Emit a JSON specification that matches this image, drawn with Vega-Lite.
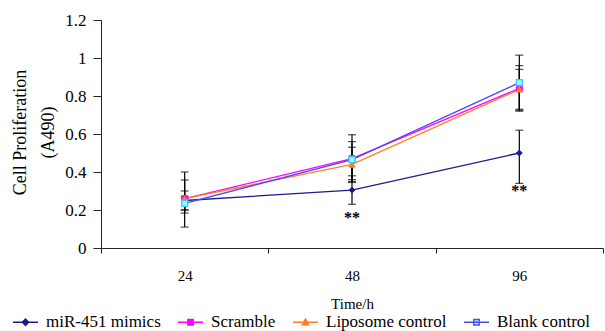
{
  "$schema": "https://vega.github.io/schema/vega-lite/v6.json",
  "autosize": {"type": "none"},
  "padding": {"left": 101, "top": 20, "right": 2, "bottom": 83},
  "width": 502,
  "height": 228,
  "background": "white",
  "config": {
    "view": {"stroke": null},
    "font": "Liberation Serif",
    "axis": {"grid": false, "domainColor": "#222222", "tickColor": "#222222", "labelColor": "black", "titleColor": "black", "labelFont": "Liberation Serif", "titleFont": "Liberation Serif", "titleFontWeight": "normal"},
    "axisY": {"labelOverlap": false, "labelSeparation": 0, "labelFontSize": 17, "labelFont": "Liberation Serif", "tickSize": 8, "labelPadding": 7}
  },
  "datasets": {
    "obs": [
      {"series": "miR-451 mimics", "time": "24", "value": 0.25, "lo": 0.20, "hi": 0.30},
      {"series": "miR-451 mimics", "time": "48", "value": 0.305, "lo": 0.23, "hi": 0.38},
      {"series": "miR-451 mimics", "time": "96", "value": 0.50, "lo": 0.34, "hi": 0.62},
      {"series": "Scramble", "time": "24", "value": 0.26, "lo": 0.11, "hi": 0.40},
      {"series": "Scramble", "time": "48", "value": 0.47, "lo": 0.345, "hi": 0.596},
      {"series": "Scramble", "time": "96", "value": 0.84, "lo": 0.72, "hi": 0.96},
      {"series": "Liposome control", "time": "24", "value": 0.26, "lo": 0.184, "hi": 0.358},
      {"series": "Liposome control", "time": "48", "value": 0.44, "lo": 0.35, "hi": 0.53},
      {"series": "Liposome control", "time": "96", "value": 0.835, "lo": 0.73, "hi": 0.94},
      {"series": "Blank control", "time": "24", "value": 0.235, "lo": 0.20, "hi": 0.27},
      {"series": "Blank control", "time": "48", "value": 0.465, "lo": 0.36, "hi": 0.56},
      {"series": "Blank control", "time": "96", "value": 0.87, "lo": 0.725, "hi": 1.015}
    ],
    "stars": [
      {"time": "48", "y": 0.16, "label": "**"},
      {"time": "96", "y": 0.30, "label": "**"}
    ]
  },
  "data": {"name": "obs"},
  "encoding": {
    "x": {
      "field": "time", "type": "ordinal", "sort": ["24", "48", "96"],
      "scale": {"type": "band", "paddingInner": 0, "paddingOuter": 0},
      "axis": {"title": "Time/h", "labelAngle": 0, "tickBand": "extent", "tickSize": 5, "labelPadding": 15, "labelFontSize": 15, "titleFontSize": 15, "titlePadding": 13}
    }
  },
  "layer": [
    {
      "mark": {"type": "rule", "color": "black", "strokeWidth": 1.2},
      "encoding": {
        "y": {
          "field": "lo", "type": "quantitative",
          "scale": {"domain": [0, 1.2], "nice": false, "zero": true},
          "axis": {"title": ["Cell Proliferation", "(A490)"], "tickCount": 6, "tickMinStep": 0.2, "labelExpr": "format(datum.value, '~g')", "labelOverlap": false, "titleFontSize": 18, "titleLineHeight": 28, "titleAngle": 270, "titleAlign": "center", "titleBaseline": "middle", "titleX": -81, "titleY": 112}
        },
        "y2": {"field": "hi"}
      }
    },
    {
      "mark": {"type": "tick", "color": "black", "size": 8, "thickness": 1.2, "orient": "horizontal"},
      "encoding": {"y": {"field": "lo", "type": "quantitative"}}
    },
    {
      "mark": {"type": "tick", "color": "black", "size": 8, "thickness": 1.2, "orient": "horizontal"},
      "encoding": {"y": {"field": "hi", "type": "quantitative"}}
    },
    {
      "mark": {"type": "line", "strokeWidth": 1.3},
      "encoding": {
        "y": {"field": "value", "type": "quantitative"},
        "color": {
          "field": "series", "type": "nominal",
          "scale": {"domain": ["miR-451 mimics", "Scramble", "Liposome control", "Blank control"], "range": ["#1a1a8c", "#ff00ff", "#ff7f27", "#4a4af0"]},
          "legend": {
            "title": null, "orient": "none", "legendX": -89, "legendY": 288.5,
            "direction": "horizontal", "columns": 4,
            "symbolSize": 625, "symbolStrokeWidth": 1.3,
            "labelFont": "Liberation Serif", "labelFontSize": 17, "labelColor": "black",
            "labelOffset": 7, "columnPadding": 14, "labelLimit": 300,
            "encode": {
              "symbols": {
                "update": {
                  "shape": {"signal": "datum.value === 'miR-451 mimics' ? 'M-1,0H1M0,-0.26L0.26,0L0,0.26L-0.26,0Z' : datum.value === 'Liposome control' ? 'M-1,0H1M0,-0.28L0.27,0.2H-0.27Z' : 'M-1,0H1M-0.22,-0.22H0.22V0.22H-0.22Z'"},
                  "fill": {"signal": "datum.value === 'miR-451 mimics' ? '#1a1a8c' : datum.value === 'Scramble' ? '#ff00ff' : datum.value === 'Liposome control' ? '#ff7f27' : '#9ff5ff'"},
                  "stroke": {"signal": "datum.value === 'miR-451 mimics' ? '#1a1a8c' : datum.value === 'Scramble' ? '#ff00ff' : datum.value === 'Liposome control' ? '#ff7f27' : '#4a4af0'"},
                  "opacity": {"value": 1},
                  "strokeWidth": {"value": 1.3}
                }
              }
            }
          }
        }
      }
    },
    {
      "transform": [{"filter": "datum.series === 'miR-451 mimics'"}],
      "mark": {"type": "point", "shape": "diamond", "filled": true, "fill": "#1a1a8c", "stroke": "#1a1a8c", "strokeWidth": 1, "opacity": 1, "size": 34},
      "encoding": {"y": {"field": "value", "type": "quantitative"}}
    },
    {
      "transform": [{"filter": "datum.series === 'Scramble'"}],
      "mark": {"type": "point", "shape": "square", "filled": true, "fill": "#ff00ff", "stroke": "#ff00ff", "strokeWidth": 1, "opacity": 1, "size": 36},
      "encoding": {"y": {"field": "value", "type": "quantitative"}}
    },
    {
      "transform": [{"filter": "datum.series === 'Liposome control'"}],
      "mark": {"type": "point", "shape": "triangle-up", "filled": true, "fill": "#ff7f27", "stroke": "#ff7f27", "strokeWidth": 1, "opacity": 1, "size": 40},
      "encoding": {"y": {"field": "value", "type": "quantitative"}}
    },
    {
      "transform": [{"filter": "datum.series === 'Blank control'"}],
      "mark": {"type": "point", "shape": "square", "filled": true, "fill": "#9ff5ff", "stroke": "#33ccff", "strokeWidth": 1.3, "opacity": 1, "size": 36},
      "encoding": {"y": {"field": "value", "type": "quantitative"}}
    },
    {
      "data": {"name": "stars"},
      "mark": {"type": "text", "font": "Liberation Serif", "fontSize": 16, "fontWeight": "bold", "color": "black", "baseline": "middle"},
      "encoding": {
        "y": {"field": "y", "type": "quantitative"},
        "text": {"field": "label"}
      }
    }
  ]
}
